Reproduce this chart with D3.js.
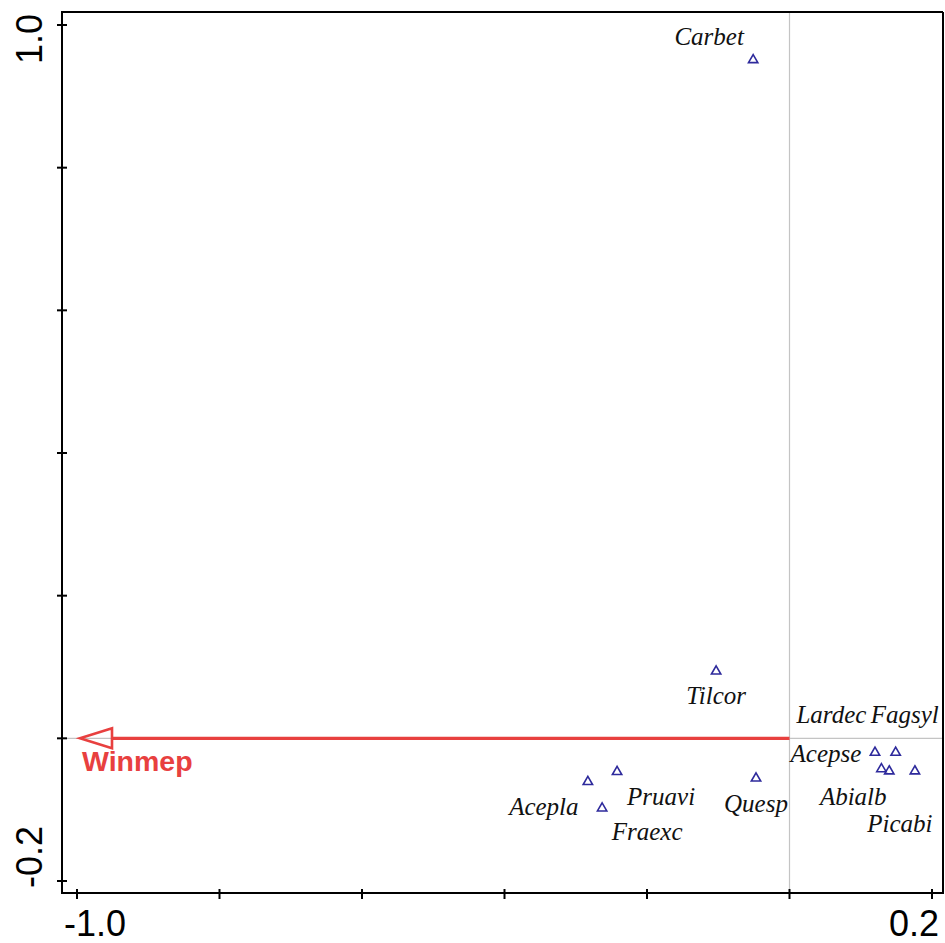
<!DOCTYPE html>
<html>
<head>
<meta charset="utf-8">
<script src="https://cdn.jsdelivr.net/npm/d3@7"></script>
<style>
  html, body { margin: 0; padding: 0; background: #fff; }
  svg { display: block; }
</style>
</head>
<body>
<svg id="chart" width="945" height="943"></svg>
<script>
// Species scores on the first two ordination axes
const species = ["Carbet", "Tilcor", "Acepla", "Pruavi", "Fraexc", "Quesp",
                 "Acepse", "Fagsyl", "Lardec", "Abialb", "Picabi"];
const axis1 = [-0.051, -0.103, -0.283, -0.242, -0.263, -0.047,
                0.120,  0.149,  0.129,  0.140,  0.176];
const axis2 = [ 0.951,  0.094, -0.061, -0.047, -0.098, -0.056,
               -0.020, -0.020, -0.043, -0.046, -0.046];

// Environmental variable (arrow)
const envNames = ["Winmep"];
const envAxis1 = [-1.0];
const envAxis2 = [0.0];

// Axis ticks and the labelled ends
const xTicks = [-1.0, -0.8, -0.6, -0.4, -0.2, 0.0, 0.2];
const yTicks = [-0.2, 0.0, 0.2, 0.4, 0.6, 0.8, 1.0];
const xTickLabels = ["-1.0", "0.2"];
const yTickLabels = ["-0.2", "1.0"];

// Label placement (pixel offsets from each point to the label baseline centre)
const labelOffsets = {
  Carbet: [-44, -15], Tilcor: [0, 33], Acepla: [-44, 33], Pruavi: [44, 33],
  Fraexc: [45, 32], Quesp: [0, 34], Acepse: [-49, 9], Fagsyl: [9, -30],
  Lardec: [-50, -46], Abialb: [-36, 34], Picabi: [-15, 61]
};

const svg = d3.select("#chart");
const frame = { left: 62, top: 12, right: 943, bottom: 893 };

const x = d3.scaleLinear().domain([-1.0, 0.2]).range([77, 932]);
const y = d3.scaleLinear().domain([-0.2, 1.0]).range([881, 25]);

// Zero reference lines
svg.append("line")
  .attr("x1", x(0)).attr("x2", x(0))
  .attr("y1", frame.top).attr("y2", frame.bottom)
  .attr("stroke", "#c4c4c4").attr("stroke-width", 1.2);
svg.append("line")
  .attr("x1", frame.left).attr("x2", frame.right)
  .attr("y1", y(0)).attr("y2", y(0))
  .attr("stroke", "#c4c4c4").attr("stroke-width", 1.2);

// Frame
const fg = svg.append("g").attr("stroke", "#000").attr("stroke-width", 2).attr("fill", "none");
fg.append("line").attr("x1", frame.left).attr("x2", frame.left).attr("y1", frame.top - 1).attr("y2", frame.bottom + 1);
fg.append("line").attr("x1", frame.left - 1).attr("x2", frame.right).attr("y1", frame.top).attr("y2", frame.top);
fg.append("line").attr("x1", frame.left - 1).attr("x2", frame.right + 1).attr("y1", frame.bottom).attr("y2", frame.bottom);
fg.append("line").attr("x1", frame.right).attr("x2", frame.right).attr("y1", frame.top).attr("y2", frame.bottom);

// Ticks crossing the axis lines
fg.selectAll(".xt").data(xTicks).join("line")
  .attr("x1", d => x(d)).attr("x2", d => x(d))
  .attr("y1", frame.bottom - 4).attr("y2", frame.bottom + 6);
fg.selectAll(".yt").data(yTicks).join("line")
  .attr("y1", d => y(d)).attr("y2", d => y(d))
  .attr("x1", frame.left - 5).attr("x2", frame.left + 5);

// Tick labels at the two ends of each axis
const tickFont = "Liberation Sans, Arial, sans-serif";
const xLabelShift = { "-1.0": 18, "0.2": -18 };
svg.selectAll(".xl").data(xTickLabels).join("text")
  .attr("x", d => x(+d) + xLabelShift[d])
  .attr("y", 936)
  .attr("text-anchor", "middle")
  .attr("font-family", tickFont).attr("font-size", 36)
  .text(d => d);
const yLabelShift = { "-0.2": -24, "1.0": 14 };
svg.selectAll(".yl").data(yTickLabels).join("text")
  .attr("transform", d => `translate(42,${y(+d) + yLabelShift[d]}) rotate(-90)`)
  .attr("text-anchor", "middle")
  .attr("font-family", tickFont).attr("font-size", 36)
  .text(d => d);

// Environmental arrow with open head
const red = "#e8403f";
envNames.forEach((name, i) => {
  const x0 = x(0), y0 = y(0);
  const x1 = x(envAxis1[i]), y1 = y(envAxis2[i]);
  const ang = Math.atan2(y1 - y0, x1 - x0);
  const headLen = 32, headHalf = 10;
  const tipX = x1 - 3 * Math.cos(ang), tipY = y1 - 3 * Math.sin(ang);
  const bx = tipX - headLen * Math.cos(ang), by = tipY - headLen * Math.sin(ang);
  const px = -Math.sin(ang) * headHalf, py = Math.cos(ang) * headHalf;
  svg.append("line")
    .attr("x1", x0).attr("y1", y0).attr("x2", bx).attr("y2", by)
    .attr("stroke", red).attr("stroke-width", 3.2);
  svg.append("path")
    .attr("d", `M${tipX},${tipY}L${bx + px},${by + py}L${bx - px},${by - py}Z`)
    .attr("fill", "none").attr("stroke", red).attr("stroke-width", 2.6)
    .attr("stroke-linejoin", "miter");
  svg.append("text")
    .attr("x", x1 + 5).attr("y", y1 + 33)
    .attr("font-family", tickFont).attr("font-weight", "bold")
    .attr("font-size", 28.5).attr("fill", red)
    .text(name);
});

// Species markers (open triangles)
const tri = d3.symbol().type(d3.symbolTriangle).size(38);
const navy = "#2e2a9c";
svg.selectAll(".sp").data(species).join("path")
  .attr("d", tri)
  .attr("transform", (d, i) => `translate(${x(axis1[i])},${y(axis2[i])})`)
  .attr("fill", "none").attr("stroke", navy).attr("stroke-width", 1.6);

// Species labels
svg.selectAll(".spl").data(species).join("text")
  .attr("x", (d, i) => x(axis1[i]) + labelOffsets[d][0])
  .attr("y", (d, i) => y(axis2[i]) + labelOffsets[d][1])
  .attr("text-anchor", "middle")
  .attr("font-family", "Liberation Serif, Times New Roman, serif")
  .attr("font-style", "italic").attr("font-size", 25)
  .attr("fill", "#111")
  .text(d => d);
</script>
</body>
</html>
